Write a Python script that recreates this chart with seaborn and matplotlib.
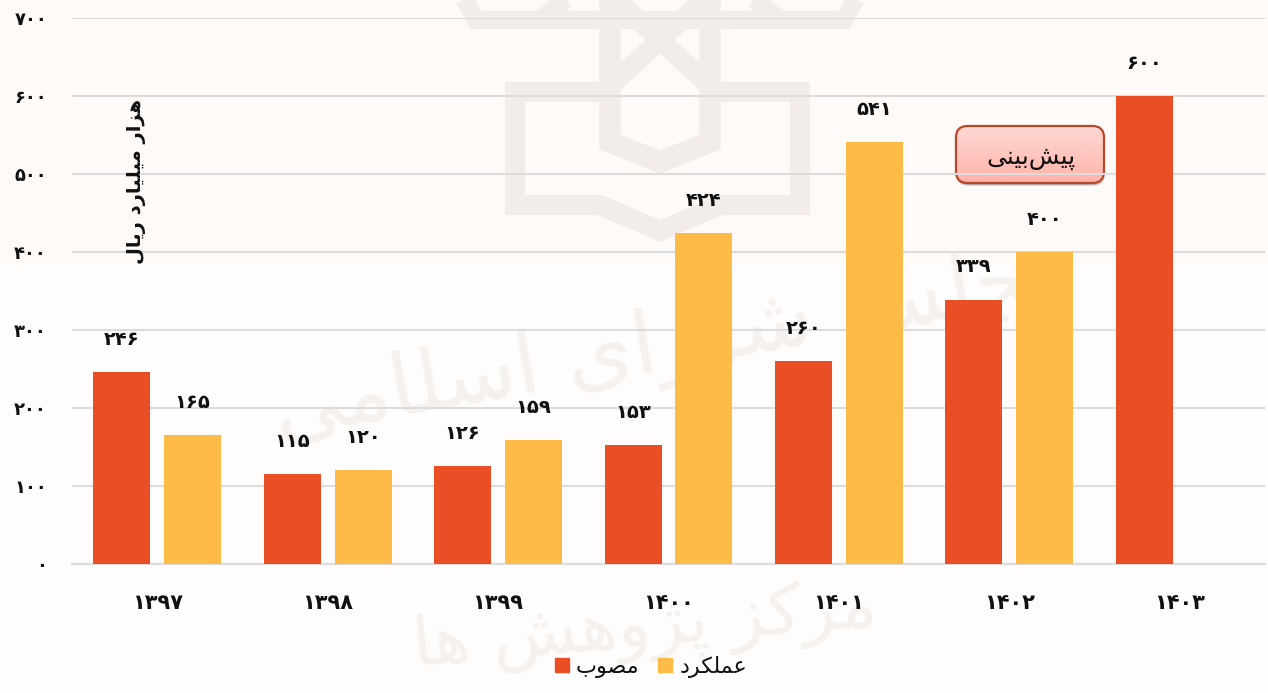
import matplotlib
matplotlib.use('Agg')
import matplotlib.pyplot as plt
from matplotlib.colors import LinearSegmentedColormap
from matplotlib.lines import Line2D
from matplotlib.patches import FancyBboxPatch, Patch, Rectangle
import seaborn as sns
import pandas as pd
import numpy as np

years = ['1397', '1398', '1399', '1400', '1401', '1402', '1403']
approved = [246, 115, 126, 153, 260, 339, 600]
actual = [165, 120, 159, 424, 541, 400, np.nan]
y_ticks = [0, 100, 200, 300, 400, 500, 600, 700]

approved_name = 'مصوب'
actual_name = 'عملکرد'
unit_label = 'هزار میلیارد ریال'
forecast_label = 'پیش\u200cبینی'
wm_top = 'مجلس شورای اسلامی'
wm_bottom = 'مرکز پژوهش ها'

#isolated, final, initial, medial presentation forms
forms = {
    'ه': 'ﻩﻪﻫﻬ', 'م': 'ﻡﻢﻣﻤ', 'ی': 'ﯼﯽﯾﯿ', 'ل': 'ﻝﻞﻟﻠ', 'پ': 'ﭖﭗﭘﭙ', 'ش': 'ﺵﺶﺷﺸ',
    'ب': 'ﺏﺐﺑﺒ', 'ن': 'ﻥﻦﻧﻨ', 'ع': 'ﻉﻊﻋﻌ', 'ک': 'ﮎﮏﮐﮑ', 'ص': 'ﺹﺺﺻﺼ', 'س': 'ﺱﺲﺳﺴ',
    'ج': 'ﺝﺞﺟﺠ', 'ژ': 'ﮊﮋ', 'ا': 'ﺍﺎ', 'ر': 'ﺭﺮ', 'ز': 'ﺯﺰ', 'د': 'ﺩﺪ', 'و': 'ﻭﻮ',
}

#matplotlib does not join arabic letters so pick the forms by hand
def shape(txt):
    out = []
    for i, ch in enumerate(txt):
        if ch not in forms:
            if ch != '\u200c':
                out.append(ch)
            continue
        prev = txt[i - 1] if i > 0 else ' '
        nxt = txt[i + 1] if i < len(txt) - 1 else ' '
        join_prev = prev in forms and len(forms[prev]) == 4
        join_next = nxt in forms and len(forms[ch]) == 4
        if join_prev and join_next:
            out.append(forms[ch][3])
        elif join_prev:
            out.append(forms[ch][1])
        elif join_next:
            out.append(forms[ch][2])
        else:
            out.append(forms[ch][0])
    return ''.join(out[::-1])

def fa_num(v):
    return str(int(v)).translate(str.maketrans('0123456789', '۰۱۲۳۴۵۶۷۸۹'))

df = pd.DataFrame({
    'year': years * 2,
    'value': approved + actual,
    'kind': ['approved'] * len(years) + ['actual'] * len(years),
})

W, H = 1268, 693
fig = plt.figure(figsize=(W / 100, H / 100), dpi=100, facecolor='#fffdfc')
ax = fig.add_axes([72 / W, 1 - 564 / H, (1265 - 72) / W, (564 - 18) / H])
ax.set_facecolor('none')

#upper part of the page is a touch pinker
fig.add_artist(Rectangle((0, 1 - 265 / H), 1, 265 / H, transform=fig.transFigure, fc='#fefaf8',
                         ec='none', zorder=-10))

#watermark behind everything, in pixels of the figure
wm_color = '#f3ede9'
def wm_line(xs, ys, lw=14.4):
    fig.add_artist(Line2D([x / W for x in xs], [1 - y / H for y in ys], color=wm_color,
                          lw=lw, zorder=-5, solid_capstyle='butt', solid_joinstyle='miter'))
wm_line([610, 515, 515, 600, 660, 720, 800, 800, 710], [92, 92, 205, 205, 231, 205, 205, 92, 92])
wm_line([610, 610, 660, 710, 710], [0, 142, 162, 142, 0], lw=15.5)
wm_line([462, 476, 844, 858], [-5, 20, 20, -5], lw=13)
wm_line([610, 710], [-6, 86], lw=14.4)
wm_line([710, 610], [-6, 86], lw=14.4)
wm_line([540, 570], [20, -5], lw=13)
wm_line([780, 750], [20, -5], lw=13)
text_wm = '#f5f1ee'
fig.text(675 / W, 1 - 345 / H, shape(wm_top), fontsize=62, color=text_wm,
         rotation=10, ha='center', va='center', zorder=-5)
fig.text(645 / W, 1 - 628 / H, shape(wm_bottom), fontsize=50, color=text_wm,
         rotation=5, ha='center', va='center', zorder=-5)

sns.barplot(data=df, x='year', y='value', hue='kind', hue_order=['approved', 'actual'],
            palette=['#e94e24', '#febb47'], width=0.833, gap=0.197, saturation=1,
            legend=False, ax=ax, zorder=3)

ax.set_ylim(0, 700)
ax.set_xlim(-0.5, 6.5)
ax.set_yticks(y_ticks)
ax.set_yticklabels([fa_num(v) for v in y_ticks], fontsize=13, fontweight='bold', color='#111111')
ax.set_xticks(range(len(years)))
ax.set_xticklabels([fa_num(y) for y in years], fontsize=15, fontweight='bold', color='#111111')
ax.set_xlabel('')
ax.set_ylabel('')
ax.tick_params(axis='y', length=0, pad=18)
ax.tick_params(axis='x', length=0, pad=21)
ax.grid(axis='y', color='#dcdcdc', lw=1.5, zorder=0)
ax.set_axisbelow(True)
for s in ['top', 'right', 'left']:
    ax.spines[s].set_visible(False)
ax.spines['bottom'].set_color('#dcdcdc')
ax.spines['bottom'].set_linewidth(1.6)

#value labels sit well above the bars
for cont in ax.containers:
    for bar in cont:
        h = bar.get_height()
        if np.isnan(h):
            continue
        ax.annotate(fa_num(h), (bar.get_x() + bar.get_width() / 2, h), xytext=(0, 23.5),
                    textcoords='offset points', ha='center', va='center', fontsize=14,
                    fontweight='bold', color='#111111', zorder=5)

fig.text(136 / W, 1 - 182 / H, shape(unit_label), rotation=90, fontsize=14, fontweight='bold',
         ha='center', va='center', color='#111111')

#forecast callout, gradient clipped to the rounded box
bx, by, bw, bh = 956 / W, 1 - 183 / H, 148 / W, 57 / H
round_box = dict(boxstyle='round,pad=0,rounding_size=0.009', mutation_aspect=W / H,
                 transform=fig.transFigure)
fig.add_artist(FancyBboxPatch((bx + 1 / W, by - 3 / H), bw, bh, fc='#00000020', ec='none',
                              zorder=6, **round_box))
fig.add_artist(FancyBboxPatch((bx, by - 2 / H), bw, bh, fc='#00000030', ec='none',
                              zorder=6, **round_box))
grad_ax = fig.add_axes([bx, by, bw, bh], zorder=7)
grad_ax.axis('off')
pinks = LinearSegmentedColormap.from_list('pinks', ['#ffd9d4', '#ffb3a9'])
img = grad_ax.imshow(np.linspace(0, 1, 64).reshape(-1, 1), cmap=pinks, aspect='auto')
clip_box = FancyBboxPatch((bx, by), bw, bh, fc='none', ec='#b9472a', lw=1.6, zorder=8, **round_box)
fig.add_artist(clip_box)
img.set_clip_path(clip_box)
#the 500 gridline runs over the box in the original
fig.add_artist(Line2D([bx, bx + bw], [1 - 174 / H, 1 - 174 / H], color='#dcdcdc', lw=1.5, zorder=9))
fig.text(1031 / W, 1 - 158 / H, shape(forecast_label), fontsize=18, ha='center', va='center',
         color='#111111', zorder=10)

#legend
handles = [Patch(color='#e94e24'), Patch(color='#febb47')]
fig.legend(handles, [shape(approved_name), shape(actual_name)], ncol=2, frameon=False,
           loc='center', bbox_to_anchor=(651 / W, 1 - 667 / H), fontsize=16, handlelength=0.63,
           handleheight=0.63, handletextpad=0.33, columnspacing=0.85, labelcolor='#111111')

fig.savefig('out.png', dpi=100, facecolor=fig.get_facecolor())
